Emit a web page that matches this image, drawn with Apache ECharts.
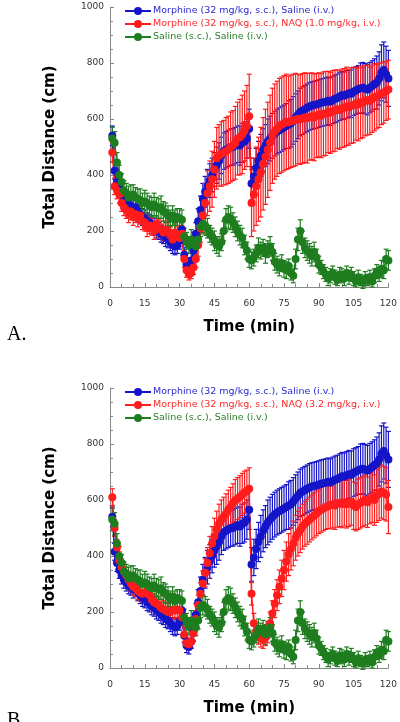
<!DOCTYPE html>
<html><head><meta charset="utf-8">
<script src="https://cdn.jsdelivr.net/npm/echarts@6/dist/echarts.min.js"></script>
<style>html,body{margin:0;padding:0;background:#fff}#c{width:400px;height:722px}</style>
</head><body><div id="c"></div>
<script>
// Time points (min)
const times = [];
for (let t = 1; t <= 120; t++) times.push(t);
const xTicks = [0, 15, 30, 45, 60, 75, 90, 105, 120];
const yTicks = [0, 200, 400, 600, 800, 1000];

const nameBlue = 'Morphine (32 mg/kg, s.c.), Saline (i.v.)';
const nameRedA = 'Morphine (32 mg/kg, s.c.), NAQ (1.0 mg/kg, i.v.)';
const nameRedB = 'Morphine (32 mg/kg, s.c.), NAQ (3.2 mg/kg, i.v.)';
const nameGreen = 'Saline (s.c.), Saline (i.v.)';

const blue = [
540,415,375,350,330,315,305,295,290,280,
285,270,260,250,245,235,230,220,215,205,
200,190,185,175,170,160,150,145,150,165,
205,115,80,75,95,130,190,235,275,315,
340,360,380,400,420,435,450,470,485,490,
495,500,500,505,510,505,515,520,530,565,
370,395,425,450,470,490,505,520,530,540,
548,555,560,565,570,575,580,585,595,605,
615,625,630,635,640,645,648,650,652,655,
658,660,662,665,662,668,672,675,680,685,
683,688,692,690,698,702,706,710,712,708,
705,712,718,725,730,745,765,775,760,745];
const blueErr = [
35,30,30,30,30,30,30,30,30,30,
30,30,30,30,30,30,30,30,30,30,
30,30,30,30,30,30,30,30,30,30,
30,25,25,25,25,35,40,45,50,55,
55,60,60,60,60,65,65,65,65,65,
65,65,65,65,65,70,70,70,70,70,
60,65,70,70,75,75,75,80,80,80,
80,80,80,80,80,80,85,85,85,85,
85,85,85,85,85,85,85,85,85,85,
85,85,85,85,85,85,85,85,85,85,
85,85,85,85,85,85,85,90,90,90,
90,90,90,90,95,95,100,100,100,100];

const green = [
530,515,445,400,375,345,335,320,325,330,
320,315,310,300,305,300,290,285,295,285,
280,285,270,265,255,245,255,240,250,245,
240,180,165,150,170,165,145,170,215,225,
220,210,190,180,165,150,145,160,200,240,
250,245,230,215,200,185,175,150,130,100,
95,105,120,140,130,140,120,135,145,125,
90,80,70,85,65,60,75,50,40,100,
170,200,160,140,130,120,110,125,105,80,
70,55,45,30,40,50,35,25,45,40,
30,50,35,45,30,20,35,25,15,30,
25,35,20,40,55,45,65,60,100,95];
const greenErr = [
40,40,35,35,30,35,35,40,40,35,
35,35,40,35,40,35,35,35,40,35,
35,40,35,35,35,30,35,35,30,35,
35,30,30,30,35,30,30,30,35,35,
35,35,30,30,35,30,35,30,35,40,
40,40,35,35,35,35,35,35,30,30,
30,30,30,35,30,30,35,30,35,30,
30,30,30,30,30,30,25,25,25,35,
40,40,40,35,35,35,35,35,30,30,
25,25,25,25,25,25,25,20,25,25,
25,25,25,25,25,20,25,20,20,25,
20,25,20,25,25,25,30,30,35,35];

const redA = [
480,360,345,330,300,285,275,260,270,250,
260,245,255,235,230,210,220,215,200,225,
210,205,195,205,200,185,170,195,185,175,
190,100,60,45,50,70,100,150,210,255,
300,335,360,385,420,460,470,475,480,485,
490,500,505,515,530,535,545,560,575,610,
300,330,360,385,410,440,465,490,515,540,
555,565,575,580,585,590,588,592,595,598,
600,598,602,605,603,608,610,606,612,615,
612,618,620,625,622,628,630,635,632,638,
640,645,642,648,650,655,652,660,658,665,
668,665,672,678,680,685,690,695,700,705];
const redAErr = [
35,30,30,30,30,30,30,30,30,30,
30,30,30,30,30,30,30,30,30,30,
30,30,30,30,30,30,30,30,30,30,
30,30,25,20,20,25,30,40,50,60,
70,80,90,100,100,110,110,115,115,120,
120,125,125,130,130,135,140,140,145,150,
120,130,140,150,160,165,170,170,170,170,
170,170,170,170,170,170,165,165,165,165,
160,160,160,160,160,155,155,155,150,150,
150,150,150,145,145,145,145,140,140,140,
140,140,135,135,135,130,130,130,125,125,
125,120,120,120,115,115,110,110,105,105];

const redB = [
610,500,430,385,360,345,330,315,302,290,
285,275,270,265,268,275,260,245,235,230,
225,215,210,205,200,202,207,205,208,205,
180,120,88,85,95,124,175,225,265,302,
340,375,410,445,470,495,515,530,540,552,
565,575,588,598,605,612,620,628,632,640,
265,160,130,115,105,100,110,125,160,195,
230,260,290,320,350,380,405,425,445,465,
480,492,505,515,522,530,538,545,552,560,
565,570,575,578,582,585,580,588,590,586,
592,585,590,595,580,575,585,590,595,600,
592,605,610,600,615,622,630,625,620,575];
const redBErr = [
30,30,30,30,30,30,30,30,30,30,
30,30,30,30,30,30,30,30,30,30,
30,30,30,30,30,30,30,30,30,30,
30,25,20,20,20,25,30,35,40,45,
50,55,60,60,65,65,70,70,70,70,
70,70,70,75,75,75,75,75,75,75,
40,35,30,30,30,30,30,35,40,45,
50,55,60,65,70,70,75,75,80,80,
80,80,80,80,80,80,80,80,80,80,
80,80,80,80,85,85,85,85,85,85,
85,85,85,85,85,85,90,90,90,90,
90,90,90,90,95,95,95,95,95,95];

const C_BLUE = '#1414c8', C_RED = '#ff1c1c', C_GREEN = '#1e7d1e';
const T_BLUE = '#2a2ad0', T_RED = '#ff2a2a', T_GREEN = '#2a802a';

function pts(vals) { return times.map((t, i) => [t, vals[i]]); }
function errPts(vals, errs) { return times.map((t, i) => [t, vals[i], errs[i]]); }

function errSeries(id, vals, errs, color, gi) {
  return {
    type: 'custom', name: id, xAxisIndex: gi, yAxisIndex: gi,
    data: errPts(vals, errs), encode: { x: 0, y: 1 }, silent: true,
    renderItem: function (params, api) {
      const x = api.value(0), y = api.value(1), e = api.value(2);
      const hi = api.coord([x, y + e]), lo = api.coord([x, y - e]);
      const w = 2.5;
      const st = { stroke: color, lineWidth: 1.2 };
      return { type: 'group', children: [
        { type: 'line', shape: { x1: hi[0], y1: hi[1], x2: lo[0], y2: lo[1] }, style: st },
        { type: 'line', shape: { x1: hi[0] - w, y1: hi[1], x2: hi[0] + w, y2: hi[1] }, style: st },
        { type: 'line', shape: { x1: lo[0] - w, y1: lo[1], x2: lo[0] + w, y2: lo[1] }, style: st }
      ]};
    }
  };
}
function lineSeries(name, vals, color, gi) {
  return {
    type: 'line', name: name, xAxisIndex: gi, yAxisIndex: gi,
    data: pts(vals), symbol: 'circle', symbolSize: 8, showSymbol: true,
    itemStyle: { color: color }, lineStyle: { color: color, width: 1.5 },
    emphasis: { disabled: true }
  };
}

const tops = [7, 388];
const font = '"DejaVu Sans", sans-serif';
function xAx(gi) {
  return {
    type: 'value', gridIndex: gi, min: 0, max: 120, interval: 15,
    name: 'Time (min)', nameLocation: 'middle', nameGap: 33,
    nameTextStyle: { fontFamily: font, fontWeight: 'bold', fontSize: 15, color: '#000' },
    axisLine: { lineStyle: { color: '#888', width: 1 } },
    axisTick: { inside: true, length: 4, lineStyle: { color: '#888' } },
    minorTick: { show: true, splitNumber: 3, length: 3, lineStyle: { color: '#888' } },
    splitLine: { show: false },
    axisLabel: { fontFamily: font, fontSize: 9, color: '#333', margin: 12,
      formatter: v => xTicks.includes(v) ? String(v) : '' }
  };
}
function yAx(gi) {
  return {
    type: 'value', gridIndex: gi, min: 0, max: 1000, interval: 200,
    name: 'Total Distance (cm)', nameLocation: 'middle', nameGap: 52, nameRotate: 90,
    nameTextStyle: { fontFamily: font, fontWeight: 'bold', fontSize: 15, color: '#000' },
    axisLine: { show: true, lineStyle: { color: '#888', width: 1 } },
    axisTick: { show: true, inside: true, length: 4, lineStyle: { color: '#888' } },
    minorTick: { show: true, splitNumber: 4, length: 3, lineStyle: { color: '#888' } },
    splitLine: { show: false },
    axisLabel: { fontFamily: font, fontSize: 9, color: '#333', margin: 6,
      formatter: v => yTicks.includes(v) ? String(v) : '' }
  };
}
function legend(gi, redName) {
  return {
    orient: 'vertical', left: 119, top: tops[gi] - 6, itemGap: 3,
    itemWidth: 26, itemHeight: 10, selectedMode: false,
    textStyle: { fontFamily: font, fontSize: 9.5, padding: [0, 0, 0, -3] },
    data: [
      { name: nameBlue, textStyle: { color: T_BLUE } },
      { name: redName, textStyle: { color: T_RED } },
      { name: nameGreen, textStyle: { color: T_GREEN } }
    ]
  };
}

const chart = echarts.init(document.getElementById('c'), null, { renderer: 'canvas' });
chart.setOption({
  animation: false,
  backgroundColor: '#fff',
  title: [
    { text: 'A.', left: 2, top: 320, textStyle: { fontFamily: '"Liberation Serif", serif', fontWeight: 'normal', fontSize: 20, color: '#000' } },
    { text: 'B.', left: 2, top: 706, textStyle: { fontFamily: '"Liberation Serif", serif', fontWeight: 'normal', fontSize: 20, color: '#000' } }
  ],
  legend: [legend(0, nameRedA), legend(1, nameRedB)],
  grid: [
    { left: 110, width: 280, top: tops[0], height: 280 },
    { left: 110, width: 280, top: tops[1], height: 280 }
  ],
  xAxis: [xAx(0), xAx(1)],
  yAxis: [yAx(0), yAx(1)],
  series: [
    errSeries('errBlueA', blue, blueErr, C_BLUE, 0),
    errSeries('errRedA', redA, redAErr, C_RED, 0),
    errSeries('errGreenA', green, greenErr, C_GREEN, 0),
    lineSeries(nameBlue, blue, C_BLUE, 0),
    lineSeries(nameRedA, redA, C_RED, 0),
    lineSeries(nameGreen, green, C_GREEN, 0),
    errSeries('errBlueB', blue, blueErr, C_BLUE, 1),
    errSeries('errRedB', redB, redBErr, C_RED, 1),
    errSeries('errGreenB', green, greenErr, C_GREEN, 1),
    lineSeries(nameBlue, blue, C_BLUE, 1),
    lineSeries(nameRedB, redB, C_RED, 1),
    lineSeries(nameGreen, green, C_GREEN, 1)
  ]
});
</script></body></html>
